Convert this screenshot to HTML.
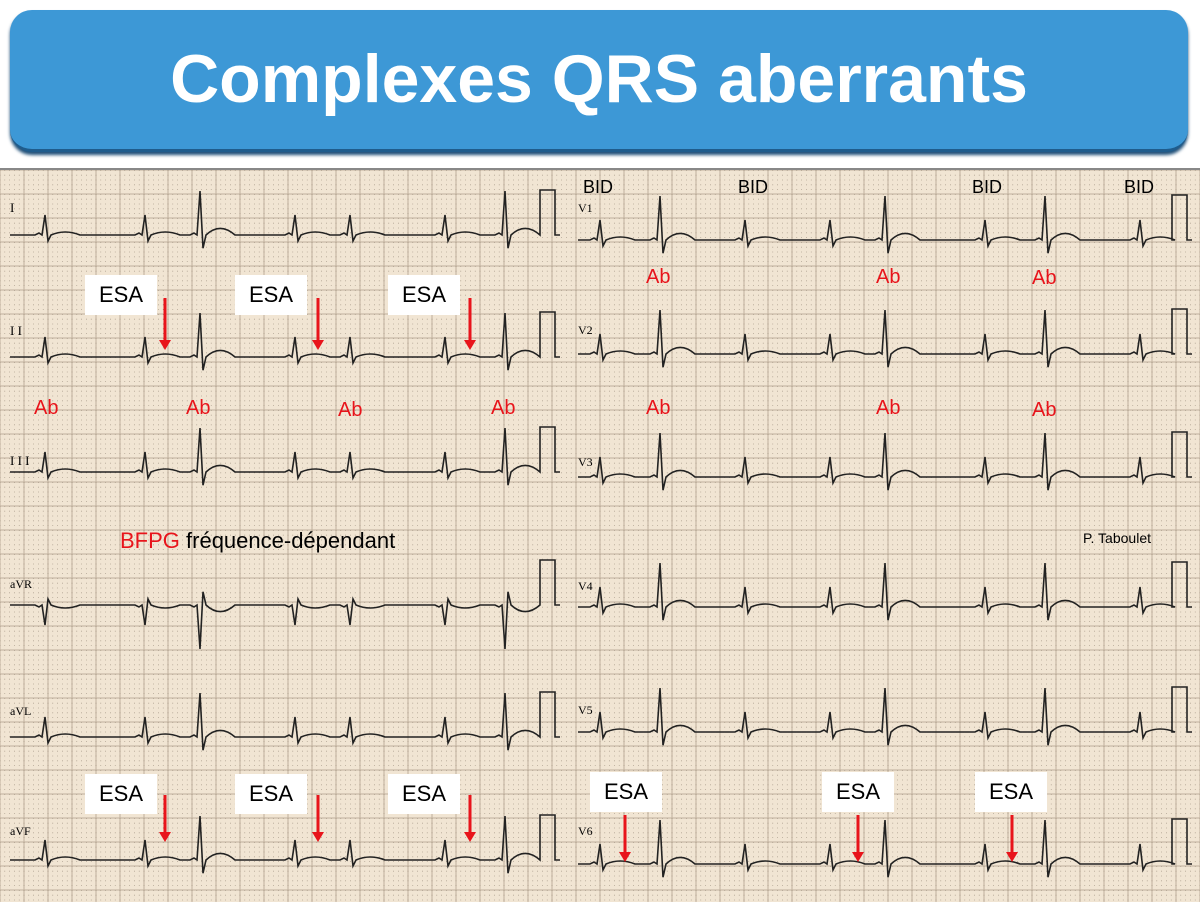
<!DOCTYPE html>
<html><head><meta charset="utf-8"><style>
body{margin:0;width:1200px;height:900px;background:#fff;overflow:hidden;position:relative;font-family:"Liberation Sans",sans-serif}
#banner{position:absolute;left:10px;top:10px;width:1178px;height:142px;background:#3d98d6;border-radius:22px;box-shadow:0 3px 3px #1f4f78;border-bottom:3px solid #1f5c8c;box-sizing:border-box}
#banner div{color:#fff;font-weight:bold;font-size:68px;text-align:center;line-height:138px}
#ecg{position:absolute;left:0;top:168px;width:1200px;height:732px;background:#f1e5d3;border-top:2px solid #888}
.t{position:absolute;font-size:22px}
.box{position:absolute;background:#fff;width:72px;height:40px;font-size:22px;text-align:center;line-height:40px}
.ab{position:absolute;color:#e8141b;font-size:20px}
</style></head><body>
<div id="banner"><div>Complexes QRS aberrants</div></div>
<div id="ecg"><svg id="s" width="1200" height="732" xmlns="http://www.w3.org/2000/svg"></svg></div>
<div class="box" style="left:85px;top:275px">ESA</div>
<div class="box" style="left:235px;top:275px">ESA</div>
<div class="box" style="left:388px;top:275px">ESA</div>
<div class="box" style="left:85px;top:774px">ESA</div>
<div class="box" style="left:235px;top:774px">ESA</div>
<div class="box" style="left:388px;top:774px">ESA</div>
<div class="box" style="left:590px;top:772px">ESA</div>
<div class="box" style="left:822px;top:772px">ESA</div>
<div class="box" style="left:975px;top:772px">ESA</div>
<div class="ab" style="left:34px;top:397px">Ab</div>
<div class="ab" style="left:186px;top:397px">Ab</div>
<div class="ab" style="left:338px;top:399px">Ab</div>
<div class="ab" style="left:491px;top:397px">Ab</div>
<div class="ab" style="left:646px;top:266px">Ab</div>
<div class="ab" style="left:876px;top:266px">Ab</div>
<div class="ab" style="left:1032px;top:267px">Ab</div>
<div class="ab" style="left:646px;top:397px">Ab</div>
<div class="ab" style="left:876px;top:397px">Ab</div>
<div class="ab" style="left:1032px;top:399px">Ab</div>
<div class="t" style="left:583px;top:177px;font-size:18px">BID</div>
<div class="t" style="left:738px;top:177px;font-size:18px">BID</div>
<div class="t" style="left:972px;top:177px;font-size:18px">BID</div>
<div class="t" style="left:1124px;top:177px;font-size:18px">BID</div>
<div class="t" style="left:120px;top:528px"><span style="color:#e8141b">BFPG</span> fréquence-dépendant</div>
<div class="t" style="left:1083px;top:530px;font-size:14px">P. Taboulet</div>
<script>
var s=document.getElementById('s'),h='';
for(var x=0;x<=1200;x+=4.8){var maj=Math.abs(x/24-Math.round(x/24))<0.01;if(maj)h+='<line x1="'+x+'" y1="0" x2="'+x+'" y2="732" stroke="#bfb09c" stroke-width="1"/>';}
for(var y=0;y<=732;y+=24)h+='<line x1="0" y1="'+y+'" x2="1200" y2="'+y+'" stroke="#bfb09c" stroke-width="1"/>';
for(var x=0;x<=1200;x+=4.8)h+='<line x1="'+x+'" y1="0" x2="'+x+'" y2="732" stroke="#8a7c6c" stroke-width="0.6" stroke-dasharray="0.8 4"/>';
function trace(x0,x1,y,beats,ab,inv){var p='M'+x0+' '+y;beats.forEach(function(b,i){var a=ab.indexOf(i)>=0;var u=inv?1:-1;var k=a?2.2:1;
p+=' L'+(b-10)+' '+y+' L'+(b-6)+' '+(y+2*u)+' L'+(b-3)+' '+y+' L'+b+' '+(y+u*20*k)+' L'+(b+3)+' '+(y-u*6*k)+' L'+(b+6)+' '+y+' Q'+(b+20)+' '+(y+u*6*k)+' '+(b+35)+' '+y;});
p+=' L'+(x1-20)+' '+y+' L'+(x1-20)+' '+(y-45)+' L'+(x1-5)+' '+(y-45)+' L'+(x1-5)+' '+y+' L'+x1+' '+y;
h+='<path d="'+p+'" fill="none" stroke="#222" stroke-width="1.6"/>';}
var L=[45,145,200,295,350,445,505],R=[600,660,745,830,885,985,1045,1140];
[[65,0],[187,0],[302,0],[435,1],[567,0],[690,0]].forEach(function(r){trace(10,560,r[0],L,[2,6],r[1]);});
[[70,0],[184,0],[307,0],[437,0],[562,0],[694,0]].forEach(function(r){trace(578,1192,r[0],R,[1,4,6],r[1]);});
h+='<text x="10" y="42" font-family="Liberation Serif" font-size="13">I</text><text x="10" y="165" font-family="Liberation Serif" font-size="13">I I</text><text x="10" y="295" font-family="Liberation Serif" font-size="13">I I I</text><text x="10" y="418" font-family="Liberation Serif" font-size="12">aVR</text><text x="10" y="545" font-family="Liberation Serif" font-size="12">aVL</text><text x="10" y="665" font-family="Liberation Serif" font-size="12">aVF</text>';
['V1','V2','V3','V4','V5','V6'].forEach(function(v,i){h+='<text x="578" y="'+[42,164,296,420,544,665][i]+'" font-family="Liberation Serif" font-size="12">'+v+'</text>';});
[[165,128,180],[318,128,180],[470,128,180],[165,625,672],[318,625,672],[470,625,672],[625,645,692],[858,645,692],[1012,645,692]].forEach(function(a){h+='<line x1="'+a[0]+'" y1="'+a[1]+'" x2="'+a[0]+'" y2="'+(a[2]-8)+'" stroke="#e8141b" stroke-width="3"/><polygon points="'+(a[0]-6)+','+(a[2]-10)+' '+(a[0]+6)+','+(a[2]-10)+' '+a[0]+','+a[2]+'" fill="#e8141b"/>';});
s.innerHTML=h;
</script>
</body></html>
